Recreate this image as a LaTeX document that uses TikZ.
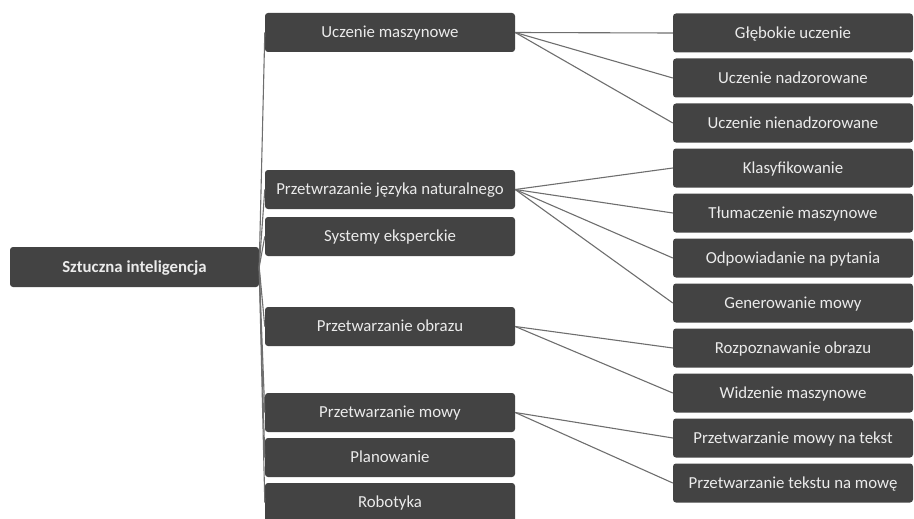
\documentclass[tikz,border=0pt]{standalone}
\usepackage{fontspec}
\setmainfont{Carlito}
\definecolor{boxfill}{HTML}{434343}
\definecolor{boxtext}{HTML}{EBEBEB}
\definecolor{linkcol}{HTML}{6E6E6E}
\tikzset{
  box/.style={rectangle, rounded corners=3pt, fill=boxfill, text=boxtext, inner sep=0pt,
    font=\fontsize{16.8}{18}\selectfont, minimum height=39pt, text height=10.8pt, text depth=0pt},
  rootbox/.style={box, minimum width=249pt, minimum height=40pt, font=\fontsize{16.8}{18}\selectfont\bfseries},
  midbox/.style={box, minimum width=250pt},
  leafbox/.style={box, minimum width=240pt},
  link/.style={draw=linkcol, line width=1.1pt}
}
\begin{document}
\begin{tikzpicture}[x=1pt,y=-1pt]
\useasboundingbox (0,0) rectangle (914,519);
\begin{scope}
\clip (0,0) rectangle (914,519);
\node[rootbox] (root) at (134.5,267) {Sztuczna inteligencja};

\node[midbox] (m1) at (390,32.5) {Uczenie maszynowe};
\node[midbox] (m2) at (390,189.5) {Przetwrazanie języka naturalnego};
\node[midbox] (m3) at (390,236.5) {Systemy eksperckie};
\node[midbox] (m4) at (390,326.5) {Przetwarzanie obrazu};
\node[midbox] (m5) at (390,412.5) {Przetwarzanie mowy};
\node[midbox] (m6) at (390,457.5) {Planowanie};
\node[midbox] (m7) at (390,502.5) {Robotyka};

\node[leafbox] (l1) at (793,33) {Głębokie uczenie};
\node[leafbox] (l2) at (793,78) {Uczenie nadzorowane};
\node[leafbox] (l3) at (793,123) {Uczenie nienadzorowane};
\node[leafbox] (l4) at (793,168) {Klasyfikowanie};
\node[leafbox] (l5) at (793,213) {Tłumaczenie maszynowe};
\node[leafbox] (l6) at (793,258) {Odpowiadanie na pytania};
\node[leafbox] (l7) at (793,303) {Generowanie mowy};
\node[leafbox] (l8) at (793,348) {Rozpoznawanie obrazu};
\node[leafbox] (l9) at (793,393) {Widzenie maszynowe};
\node[leafbox] (l10) at (793,438) {Przetwarzanie mowy na tekst};
\node[leafbox] (l11) at (793,483) {Przetwarzanie tekstu na mowę};

\foreach \m in {m1,m2,m3,m4,m5,m6,m7}
  \draw[link] (root.east) -- (\m.west);
\foreach \l in {l1,l2,l3}
  \draw[link] (m1.east) -- (\l.west);
\foreach \l in {l4,l5,l6,l7}
  \draw[link] (m2.east) -- (\l.west);
\foreach \l in {l8,l9}
  \draw[link] (m4.east) -- (\l.west);
\foreach \l in {l10,l11}
  \draw[link] (m5.east) -- (\l.west);
\end{scope}
\end{tikzpicture}
\end{document}
